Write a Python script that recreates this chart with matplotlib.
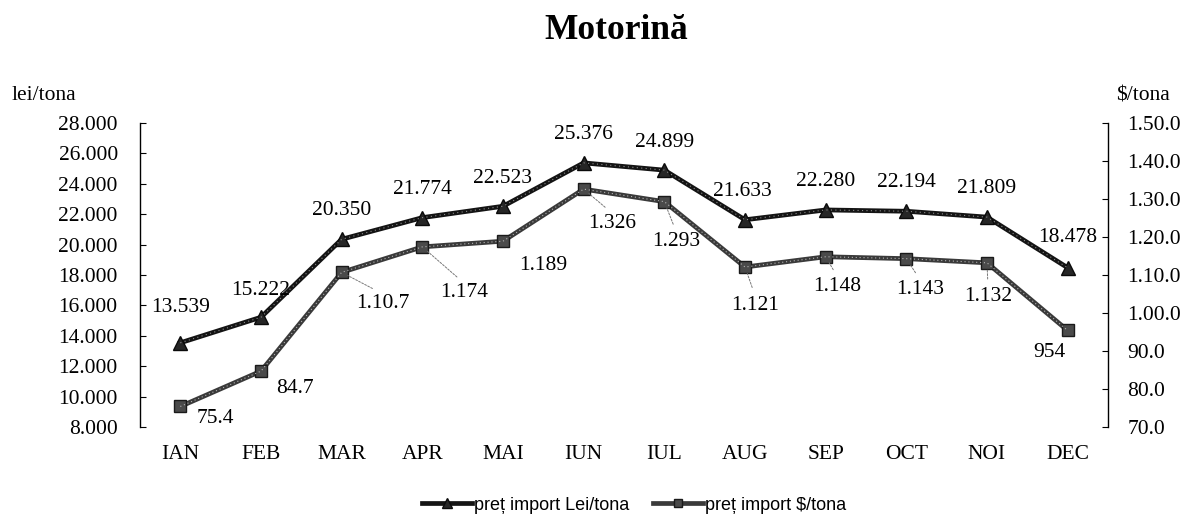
import numpy as np
import matplotlib
matplotlib.use('Agg')
import matplotlib.pyplot as plt

plt.rcParams['font.family'] = ['Liberation Serif', 'DejaVu Serif']

# data
months = ['IAN', 'FEB', 'MAR', 'APR', 'MAI', 'IUN', 'IUL', 'AUG', 'SEP', 'OCT', 'NOI', 'DEC']
lei = [13539, 15222, 20350, 21774, 22523, 25376, 24899, 21633, 22280, 22194, 21809, 18478]
lei_labels = ['13.539', '15.222', '20.350', '21.774', '22.523', '25.376', '24.899',
              '21.633', '22.280', '22.194', '21.809', '18.478']
usd = [754, 847, 1107, 1174, 1189, 1326, 1293, 1121, 1148, 1143, 1132, 954]
usd_labels = ['75.4', '84.7', '1.10.7', '1.174', '1.189', '1.326', '1.293',
              '1.121', '1.148', '1.143', '1.132', '954']
left_ticks = [8000, 10000, 12000, 14000, 16000, 18000, 20000, 22000, 24000, 26000, 28000]
left_ticklabels = ['8.000', '10.000', '12.000', '14.000', '16.000', '18.000',
                   '20.000', '22.000', '24.000', '26.000', '28.000']
right_ticks = [700, 800, 900, 1000, 1100, 1200, 1300, 1400, 1500]
right_ticklabels = ['70.0', '80.0', '90.0', '1.00.0', '1.10.0', '1.20.0',
                    '1.30.0', '1.40.0', '1.50.0']

# label offsets in pixels (dx, dy)
lei_off = [(0, 35), (0, 27), (0, 29), (0, 28), (0, 28), (0, 28),
           (0, 28), (-3, 28), (0, 28), (0, 29), (0, 29), (0, 30)]
usd_off = [(35, -12), (34, -17), (41, -31), (42, -46), (40, -24), (29, -34),
           (12, -40), (10, -38), (12, -30), (14, -31), (1, -34), (-18, -22)]
usd_leader = [False, False, True, True, False, True, True, True, True, True, True, False]

fig = plt.figure(figsize=(11.86, 5.21), dpi=100)
ax = fig.add_axes([140 / 1186, 1 - 427 / 521, (1108 - 140) / 1186, (427 - 123) / 521])
ax2 = ax.twinx()

x = np.arange(len(months))
l1, = ax.plot(x, lei, color='#141414', lw=3.4, marker='^', markersize=10,
              markerfacecolor='#262626', markeredgecolor='#0a0a0a', zorder=3)
l2, = ax2.plot(x, usd, color='#3a3a3a', lw=3.4, marker='s', markersize=9,
               markerfacecolor='#4a4a4a', markeredgecolor='#1a1a1a', zorder=3)
# speckled look of the lines
ax.plot(x, lei, color='#8c8c8c', lw=0.8, ls=(0, (1, 3)), zorder=4)
ax2.plot(x, usd, color='#b4b4b4', lw=0.8, ls=(0, (1, 2.5)), zorder=4)

ax.set_xlim(-0.5, 11.5)
ax.set_ylim(8000, 28000)
ax2.set_ylim(700, 1500)
ax.set_yticks(left_ticks)
ax.set_yticklabels(left_ticklabels)
ax2.set_yticks(right_ticks)
ax2.set_yticklabels(right_ticklabels)
ax.set_xticks(x)
ax.set_xticklabels(months)

for a in (ax, ax2):
    a.spines['top'].set_visible(False)
    a.spines['bottom'].set_visible(False)
    a.tick_params(axis='both', labelsize=15.5)
ax.spines['right'].set_visible(False)
ax2.spines['left'].set_visible(False)
ax.spines['left'].set_linewidth(1.0)
ax2.spines['right'].set_linewidth(1.0)
ax.tick_params(axis='y', direction='in', length=4, pad=16)
ax2.tick_params(axis='y', direction='in', length=4, pad=14)
ax.tick_params(axis='x', length=0, pad=13)

for i in range(len(months)):
    ax.annotate(lei_labels[i], (x[i], lei[i]), xytext=lei_off[i], textcoords='offset pixels',
                ha='center', va='center', fontsize=15.5, zorder=5)
    if usd_leader[i]:
        ax2.annotate(usd_labels[i], (x[i], usd[i]), xytext=usd_off[i], textcoords='offset pixels',
                     ha='center', va='center', fontsize=15.5, zorder=5,
                     arrowprops=dict(arrowstyle='-', color='#777777', lw=0.7, ls=(0, (2, 1.5)),
                                     relpos=(0.5, 1.0), shrinkA=4, shrinkB=5))
    else:
        ax2.annotate(usd_labels[i], (x[i], usd[i]), xytext=usd_off[i], textcoords='offset pixels',
                     ha='center', va='center', fontsize=15.5, zorder=5)

fig.text(616 / 1186, 1 - 39 / 521, 'Motorină', ha='center', va='baseline',
         fontsize=25.5, fontweight='bold')
fig.text(12 / 1186, 1 - 96 / 521, 'lei/tona', ha='left', va='center', fontsize=15.5)
fig.text(1170 / 1186, 1 - 96 / 521, '$/tona', ha='right', va='center', fontsize=15.5)

fig.legend([l1, l2], ['preț import Lei/tona', 'preț import $/tona'],
           loc='center', bbox_to_anchor=(634 / 1186, 16 / 521), ncol=2, frameon=False,
           prop={'family': ['Liberation Sans', 'DejaVu Sans'], 'size': 13},
           handlelength=2.8, handletextpad=0.1, columnspacing=1.3, markerscale=0.7)

fig.savefig('out.png', dpi=100)
